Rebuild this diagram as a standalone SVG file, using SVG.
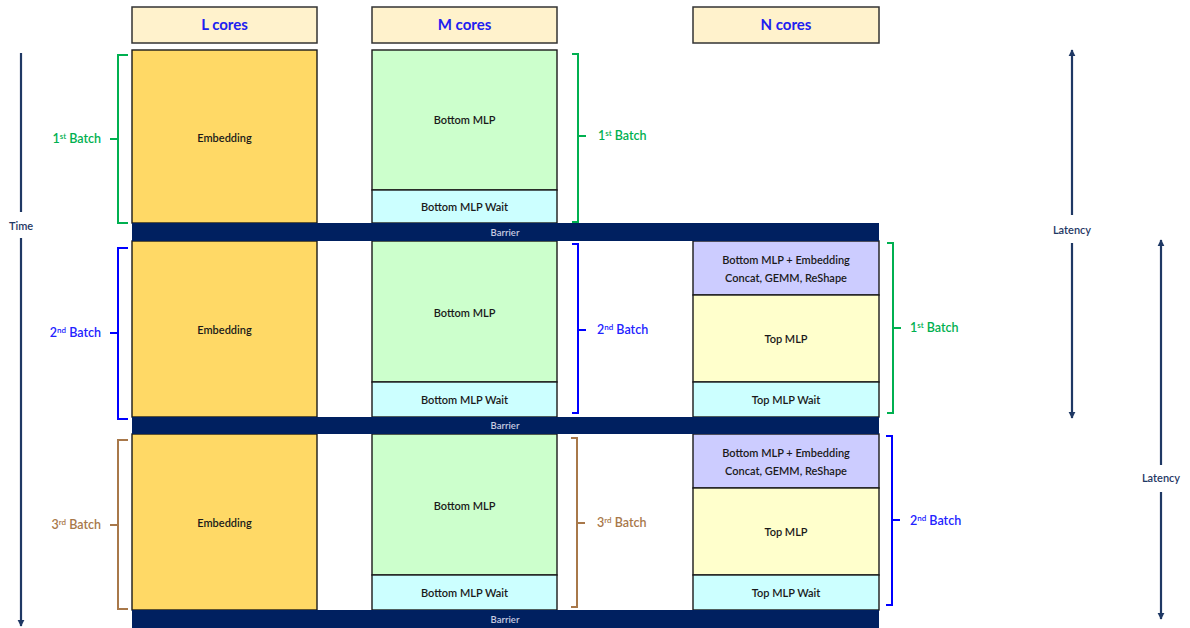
<svg xmlns="http://www.w3.org/2000/svg" width="1190" height="628" viewBox="0 0 1190 628">
<defs>
<marker id="ah" viewBox="0 0 10 10" refX="9" refY="5" markerWidth="3.2" markerHeight="3.2" orient="auto-start-reverse" markerUnits="strokeWidth">
<path d="M0,0 L10,5 L0,10 z" fill="#1F3864"/>
</marker>
<style>
.hdr{fill:#FFF2CC;stroke:#333;stroke-width:1.5}
.htx{font-family:Lato,"Open Sans",sans-serif;font-weight:bold;font-size:15px;fill:#2020F0;text-anchor:middle}
.box{stroke:#1a1a1a;stroke-width:1.4}
.emb{fill:#FFD966}
.bml{fill:#CCFFCC}
.wai{fill:#CCFFFF}
.pur{fill:#CCCCFF}
.top{fill:#FFFFCC}
.tx{font-family:Lato,"Open Sans",sans-serif;font-weight:600;font-size:11px;fill:#1a1a1a;text-anchor:middle}
.bar{fill:#002060}
.btx{font-family:Lato,"Open Sans",sans-serif;font-weight:600;font-size:9.5px;fill:#C8CCE0;text-anchor:middle}
.br{fill:none;stroke-width:2}
.g{stroke:#00B050}.b{stroke:#0000FF}.o{stroke:#A8784A}
.lb{font-family:Lato,"Open Sans",sans-serif;font-weight:600;font-size:12.5px}
.gt{fill:#00B050}.bt{fill:#2222FF}.ot{fill:#A8784A}
.ax{stroke:#1F3864;stroke-width:2.2;fill:none}
.atx{font-family:Lato,"Open Sans",sans-serif;font-weight:600;font-size:11px;fill:#1F3864;text-anchor:middle}
</style>
</defs>
<rect width="1190" height="628" fill="#fff"/>

<g id="header-L"><rect class="hdr" x="132" y="7" width="185" height="36"/><text class="htx" x="224.5" y="30">L cores</text></g>
<g id="header-M"><rect class="hdr" x="372" y="7" width="185" height="36"/><text class="htx" x="464.5" y="30">M cores</text></g>
<g id="header-N"><rect class="hdr" x="693" y="7" width="186" height="36"/><text class="htx" x="786" y="30">N cores</text></g>

<g id="L-batch1"><rect class="box emb" x="132" y="50" width="185" height="173"/><text class="tx" x="224.5" y="142">Embedding</text></g>
<g id="L-batch2"><rect class="box emb" x="132" y="241" width="185" height="176"/><text class="tx" x="224.5" y="334">Embedding</text></g>
<g id="L-batch3"><rect class="box emb" x="132" y="434" width="185" height="176"/><text class="tx" x="224.5" y="527">Embedding</text></g>

<g id="M-batch1-mlp"><rect class="box bml" x="372" y="50" width="185" height="140"/><text class="tx" x="464.5" y="124">Bottom MLP</text></g>
<g id="M-batch1-wait"><rect class="box wai" x="372" y="190" width="185" height="33"/><text class="tx" x="464.5" y="211">Bottom MLP Wait</text></g>
<g id="M-batch2-mlp"><rect class="box bml" x="372" y="241" width="185" height="141"/><text class="tx" x="464.5" y="317">Bottom MLP</text></g>
<g id="M-batch2-wait"><rect class="box wai" x="372" y="382" width="185" height="35"/><text class="tx" x="464.5" y="404">Bottom MLP Wait</text></g>
<g id="M-batch3-mlp"><rect class="box bml" x="372" y="434" width="185" height="141"/><text class="tx" x="464.5" y="510">Bottom MLP</text></g>
<g id="M-batch3-wait"><rect class="box wai" x="372" y="575" width="185" height="35"/><text class="tx" x="464.5" y="597">Bottom MLP Wait</text></g>

<g id="N-batch2-concat"><rect class="box pur" x="693" y="241" width="186" height="54"/><text class="tx" x="786" y="264">Bottom MLP + Embedding</text><text class="tx" x="786" y="282">Concat, GEMM, ReShape</text></g>
<g id="N-batch2-top"><rect class="box top" x="693" y="295" width="186" height="87"/><text class="tx" x="786" y="343">Top MLP</text></g>
<g id="N-batch2-wait"><rect class="box wai" x="693" y="382" width="186" height="35"/><text class="tx" x="786" y="404">Top MLP Wait</text></g>
<g id="N-batch3-concat"><rect class="box pur" x="693" y="434" width="186" height="54"/><text class="tx" x="786" y="457">Bottom MLP + Embedding</text><text class="tx" x="786" y="475">Concat, GEMM, ReShape</text></g>
<g id="N-batch3-top"><rect class="box top" x="693" y="488" width="186" height="87"/><text class="tx" x="786" y="536">Top MLP</text></g>
<g id="N-batch3-wait"><rect class="box wai" x="693" y="575" width="186" height="35"/><text class="tx" x="786" y="597">Top MLP Wait</text></g>

<g id="barrier1"><rect class="bar" x="132" y="223" width="747" height="18"/><text class="btx" x="505" y="236">Barrier</text></g>
<g id="barrier2"><rect class="bar" x="132" y="417" width="747" height="17"/><text class="btx" x="505" y="429">Barrier</text></g>
<g id="barrier3"><rect class="bar" x="132" y="610" width="747" height="18"/><text class="btx" x="505" y="623">Barrier</text></g>

<g id="connectors">
<path class="br g" d="M128,55 H118 V223 H128 M118,139 H110"/>
<path class="br b" d="M128,248 H118 V419 H128 M118,333 H110"/>
<path class="br o" d="M128,440 H118 V609 H128 M118,525 H110"/>
<path class="br g" d="M572,54 H578 V222 H572 M578,136 H586"/>
<path class="br b" d="M572,244 H578 V413 H572 M578,330 H586"/>
<path class="br o" d="M571,438 H577 V607 H571 M577,523 H585"/>
<path class="br g" d="M887,243 H893 V413 H887 M893,328 H901"/>
<path class="br b" d="M886,436 H892 V605 H886 M892,520 H900"/>
<line class="ax" x1="21" y1="53" x2="21" y2="212"/>
<line class="ax" x1="21" y1="238" x2="21" y2="626" marker-end="url(#ah)"/>
<line class="ax" x1="1072" y1="215" x2="1072" y2="50" marker-end="url(#ah)"/>
<line class="ax" x1="1072" y1="243" x2="1072" y2="418" marker-end="url(#ah)"/>
<line class="ax" x1="1161" y1="465" x2="1161" y2="240" marker-end="url(#ah)"/>
<line class="ax" x1="1161" y1="492" x2="1161" y2="619" marker-end="url(#ah)"/>
</g>

<g id="labels">
<text class="lb gt" x="101" y="143" text-anchor="end">1<tspan font-size="8" dy="-4">st</tspan><tspan dy="4"> Batch</tspan></text>
<text class="lb bt" x="101" y="337" text-anchor="end">2<tspan font-size="8" dy="-4">nd</tspan><tspan dy="4"> Batch</tspan></text>
<text class="lb ot" x="101" y="529" text-anchor="end">3<tspan font-size="8" dy="-4">rd</tspan><tspan dy="4"> Batch</tspan></text>
<text class="lb gt" x="598" y="140">1<tspan font-size="8" dy="-4">st</tspan><tspan dy="4"> Batch</tspan></text>
<text class="lb bt" x="597" y="334">2<tspan font-size="8" dy="-4">nd</tspan><tspan dy="4"> Batch</tspan></text>
<text class="lb ot" x="597" y="527">3<tspan font-size="8" dy="-4">rd</tspan><tspan dy="4"> Batch</tspan></text>
<text class="lb gt" x="910" y="332">1<tspan font-size="8" dy="-4">st</tspan><tspan dy="4"> Batch</tspan></text>
<text class="lb bt" x="910" y="525">2<tspan font-size="8" dy="-4">nd</tspan><tspan dy="4"> Batch</tspan></text>
<text class="atx" x="21" y="230">Time</text>
<text class="atx" x="1072" y="234">Latency</text>
<text class="atx" x="1161" y="482">Latency</text>
</g>
</svg>
